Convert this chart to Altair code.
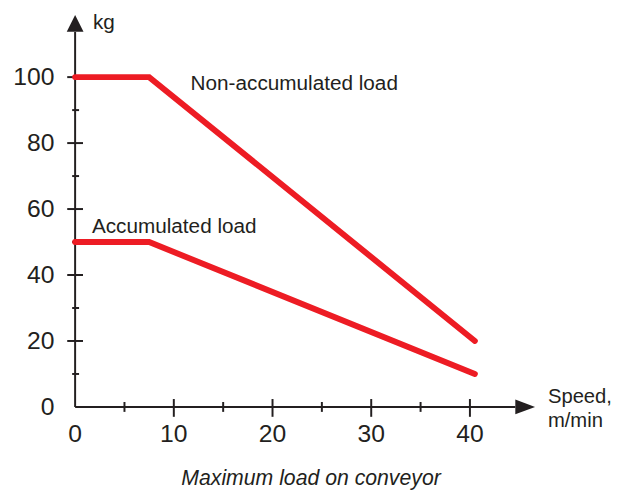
import altair as alt
import pandas as pd

# ---- data ----
speed_non = [0, 7.5, 40.5]
load_non = [100, 100, 20]
speed_acc = [0, 7.5, 40.5]
load_acc = [50, 50, 10]

x_tick_labels = [0, 10, 20, 30, 40]
y_tick_labels = [0, 20, 40, 60, 80, 100]
x_major = [10, 20, 30, 40]
x_minor = [5, 15, 25, 35]
y_major = [20, 40, 60, 80, 100]
y_minor = [10, 30, 50, 70, 90]

series_names = ["Non-accumulated load", "Accumulated load"]

# ---- styling / layout constants ----
RED = "#ed1c24"
INK = "#231f20"
FONT = "Liberation Sans"
X_END = 44.6     # end of x axis line (data units)
Y_END = 113.7    # end of y axis line
X_ARROW = 45.6
Y_ARROW = 116.3

xs = alt.Scale(domain=[0, 54.8], nice=False, zero=False)
ys = alt.Scale(domain=[0, 120], nice=False, zero=False)

def X(field="x"):
    return alt.X(f"{field}:Q", scale=xs, axis=None)

def Y(field="y"):
    return alt.Y(f"{field}:Q", scale=ys, axis=None)

lines_df = pd.DataFrame(
    [{"x": a, "y": b, "s": series_names[0]} for a, b in zip(speed_non, load_non)]
    + [{"x": a, "y": b, "s": series_names[1]} for a, b in zip(speed_acc, load_acc)]
)

lines = alt.Chart(lines_df).mark_line(
    color=RED, strokeWidth=6, strokeCap="round", strokeJoin="miter"
).encode(x=X(), y=Y(), detail="s:N")

xaxis = alt.Chart(pd.DataFrame({"x": [0], "x2": [X_END], "y": [0]})).mark_rule(
    color=INK, strokeWidth=2
).encode(x=X(), x2="x2:Q", y=Y())

yaxis = alt.Chart(pd.DataFrame({"x": [0], "y": [0], "y2": [Y_END]})).mark_rule(
    color=INK, strokeWidth=2
).encode(x=X(), y=Y(), y2="y2:Q")

x_arrow = alt.Chart(pd.DataFrame({"x": [X_ARROW], "y": [0]})).mark_point(
    shape="M1,0L-1,-0.75L-1,0.75Z", filled=True, color=INK, opacity=1, size=400
).encode(x=X(), y=Y())

y_arrow = alt.Chart(pd.DataFrame({"x": [0], "y": [Y_ARROW]})).mark_point(
    shape="M0,-1L-1,1L1,1Z", filled=True, color=INK, opacity=1, size=289
).encode(x=X(), y=Y())

def xticks(vals, up, down):
    df = pd.DataFrame({"x": vals, "y": [0] * len(vals)})
    return alt.Chart(df).mark_rule(
        color=INK, strokeWidth=2, yOffset=-up, y2Offset=down
    ).encode(x=X(), y=Y(), y2="y:Q")

def yticks(vals, left, right):
    df = pd.DataFrame({"x": [0] * len(vals), "y": vals})
    return alt.Chart(df).mark_rule(
        color=INK, strokeWidth=2, xOffset=-left, x2Offset=right
    ).encode(x=X(), x2="x:Q", y=Y())

x_major_t = xticks(x_major, 8, 10)
x_minor_t = xticks(x_minor, 5, 5)
y_major_t = yticks(y_major, 8, 8)
y_minor_t = yticks(y_minor, 3, 4)

x_labels = alt.Chart(pd.DataFrame({"x": x_tick_labels, "y": [0] * len(x_tick_labels)})).mark_text(
    font=FONT, fontSize=25, color=INK, align="center", baseline="alphabetic", dy=36
).encode(x=X(), y=Y(), text="x:Q")

y_labels = alt.Chart(pd.DataFrame({"x": [0] * len(y_tick_labels), "y": y_tick_labels})).mark_text(
    font=FONT, fontSize=25, color=INK, align="right", baseline="middle", dx=-21
).encode(x=X(), y=Y(), text="y:Q")

notes_df = pd.DataFrame({
    "x": [11.7, 1.7, 1.8, 47.9, 47.9],
    "y": [96.0, 52.7, 114.6, 1.3, -6.0],
    "t": [series_names[0], series_names[1], "kg", "Speed,", "m/min"],
    "fs": [21, 21, 21, 20.5, 20.5],
})
notes = alt.Chart(notes_df).mark_text(
    font=FONT, color=INK, align="left", baseline="alphabetic"
).encode(x=X(), y=Y(), text="t:N", size=alt.Size("fs:Q", scale=None, legend=None))

title = alt.Chart(pd.DataFrame({"x": [23.9], "y": [-23.6], "t": ["Maximum load on conveyor"]})).mark_text(
    font=FONT, fontSize=21.5, fontStyle="italic", color=INK, align="center", baseline="alphabetic"
).encode(x=X(), y=Y(), text="t:N")

chart = alt.layer(
    xaxis, yaxis, x_major_t, x_minor_t, y_major_t, y_minor_t, x_arrow, y_arrow,
    lines, x_labels, y_labels, notes, title
).properties(
    width=548, height=401,
    background="white",
    padding={"left": 68, "top": 0, "right": 0, "bottom": 84},
    autosize=alt.AutoSizeParams(type="none"),
).configure_view(stroke=None)

chart.save("out.html", embed_options={"renderer": "svg", "actions": False})
